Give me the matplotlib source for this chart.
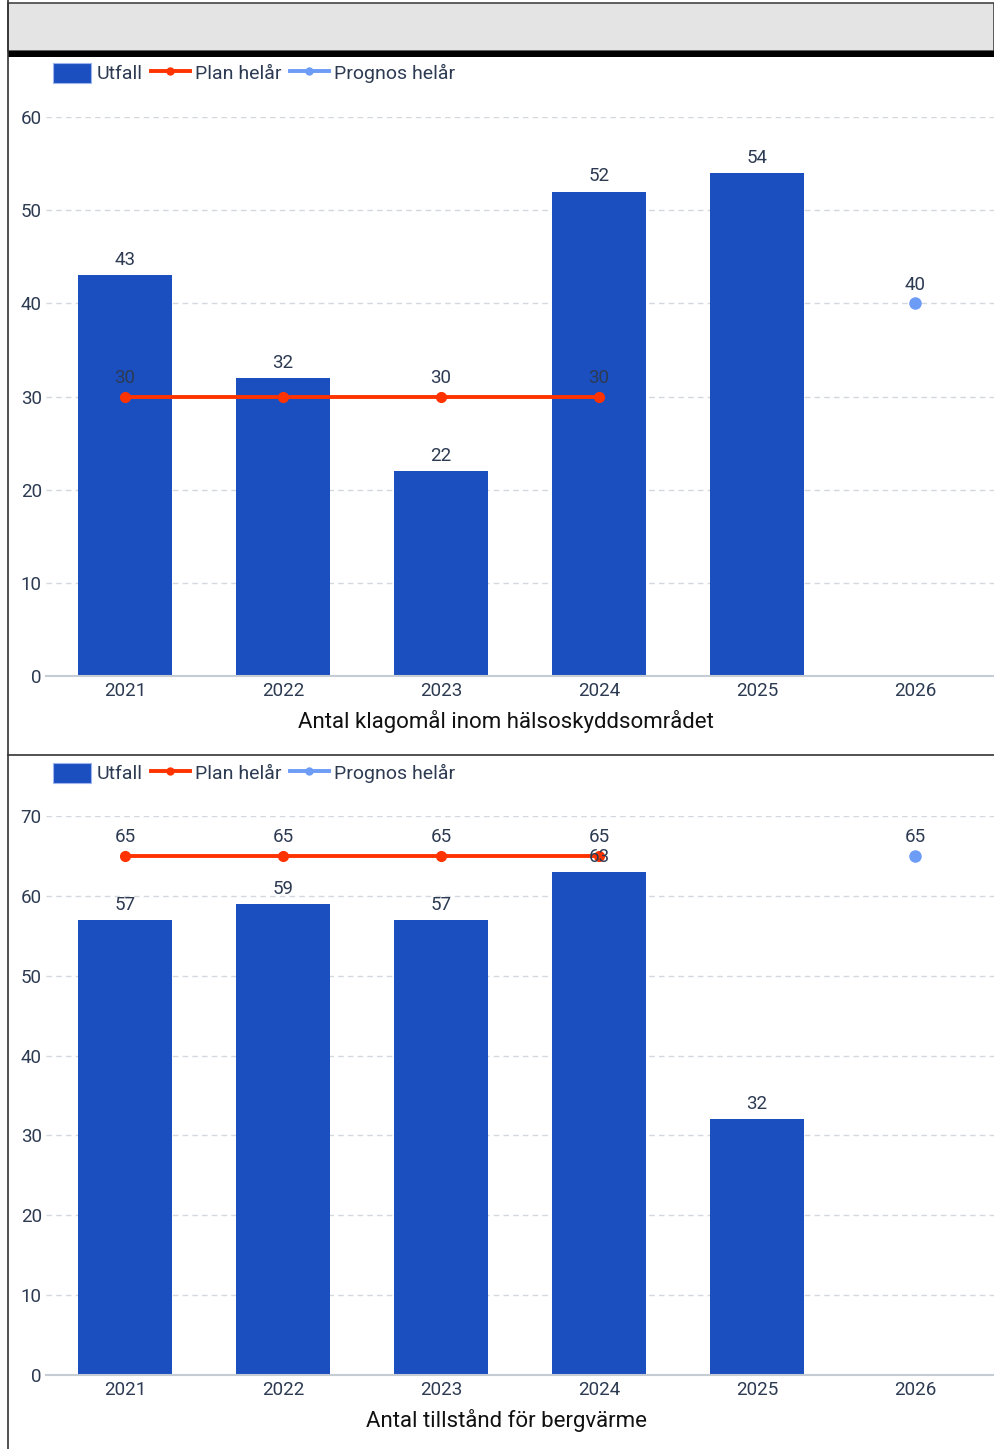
import matplotlib
matplotlib.use("Agg")
import matplotlib.pyplot as plt
from matplotlib.patches import Rectangle, Patch
from matplotlib.lines import Line2D

plt.rcParams['font.family'] = ['Roboto', 'DejaVu Sans']

# data
years = ['2021', '2022', '2023', '2024', '2025', '2026']

utfall_1 = [43, 32, 22, 52, 54]
plan_1 = [30, 30, 30, 30]
plan_1_shown = [True, False, True, True]   # 2022-etiketten döljs bakom "32"
prognos_1 = {5: 40}
title_1 = 'Antal klagomål inom hälsoskyddsområdet'

utfall_2 = [57, 59, 57, 63, 32]
plan_2 = [65, 65, 65, 65]
plan_2_shown = [True, True, True, True]
prognos_2 = {5: 65}
title_2 = 'Antal tillstånd för bergvärme'

BAR = '#1b4fbf'
PLAN = '#ff3300'
PROG = '#6c9cf6'
TXT = '#2c3a52'
GRID = '#d3d8de'

W, H = 994, 1449
fig = plt.figure(figsize=(W / 100, H / 100), dpi=100)


def fx(px):
    return px / W


def fy(py):
    return 1 - py / H


# ram / rubrikfält
fig.patches.append(Rectangle((fx(8), fy(51)), fx(994) - fx(8), fy(3) - fy(51),
                             transform=fig.transFigure, facecolor='#e4e4e4',
                             edgecolor='#444444', linewidth=1.2))
fig.patches.append(Rectangle((fx(8), fy(57)), 1 - fx(8), fy(51) - fy(57),
                             transform=fig.transFigure, facecolor='black', edgecolor='none'))
fig.add_artist(Line2D([fx(8), fx(8)], [0, 1], transform=fig.transFigure, color='#333333', lw=1.2))
fig.add_artist(Line2D([fx(8), 1], [fy(755), fy(755)], transform=fig.transFigure, color='#333333', lw=1.2))


def draw_chart(top_px, bottom_px, ymax, utfall, plan, plan_shown, prognos, title, legend_y, title_y):
    ax = fig.add_axes([fx(46), fy(bottom_px), 1 - fx(46), fy(top_px) - fy(bottom_px)])
    x = list(range(len(years)))
    ax.bar(x[:len(utfall)], utfall, width=0.6, color=BAR, zorder=2)
    ax.plot(x[:len(plan)], plan, color=PLAN, lw=2.8, marker='o', ms=7, zorder=3)
    for k, v in prognos.items():
        ax.plot([k], [v], 'o', color=PROG, ms=8, zorder=3)

    ax.set_xlim(-0.5, 5.5)
    ax.set_ylim(0, ymax)
    ax.set_yticks(range(0, ymax + 1, 10))
    ax.set_xticks(x)
    ax.set_xticklabels(years)
    ax.tick_params(axis='both', length=0, labelsize=13.5, colors=TXT)
    ax.tick_params(axis='x', pad=4)
    ax.tick_params(axis='y', pad=3)
    ax.grid(axis='y', linestyle=(0, (4, 3)), color=GRID, lw=1, zorder=0)
    for s in ['top', 'right', 'left']:
        ax.spines[s].set_visible(False)
    ax.spines['bottom'].set_color('#c5ccd3')
    ax.spines['bottom'].set_linewidth(1.5)
    ax.spines['bottom'].set_zorder(4)

    for i, v in enumerate(utfall):
        ax.annotate(str(v), (i, v), xytext=(0, 11), textcoords='offset points',
                    ha='center', va='center', fontsize=13.5, color=TXT, zorder=5)
    for i, v in enumerate(plan):
        if plan_shown[i]:
            ax.annotate(str(v), (i, v), xytext=(0, 13.5), textcoords='offset points',
                        ha='center', va='center', fontsize=13.5, color=TXT, zorder=5)
    for k, v in prognos.items():
        ax.annotate(str(v), (k, v), xytext=(0, 13.5), textcoords='offset points',
                    ha='center', va='center', fontsize=13.5, color=TXT, zorder=5)

    fig.text(fx(506), fy(title_y), title, ha='center', va='center', fontsize=16, color='#111111')

    handles = [Patch(facecolor=BAR, edgecolor='#9db4ee', lw=0.8),
               Line2D([], [], color=PLAN, lw=2.8, marker='o', ms=5),
               Line2D([], [], color=PROG, lw=2.8, marker='o', ms=5)]
    fig.legend(handles, ['Utfall', 'Plan helår', 'Prognos helår'], loc='center left',
               bbox_to_anchor=(fx(35), fy(legend_y)), ncol=3, frameon=False,
               fontsize=14, labelcolor=TXT, handlelength=2.0, handleheight=1.2,
               handletextpad=0.25, columnspacing=0.45)
    return ax


draw_chart(117, 676, 60, utfall_1, plan_1, plan_1_shown, prognos_1, title_1, 73, 722)
draw_chart(816, 1375, 70, utfall_2, plan_2, plan_2_shown, prognos_2, title_2, 773, 1421)

fig.savefig('out.png', dpi=100)
